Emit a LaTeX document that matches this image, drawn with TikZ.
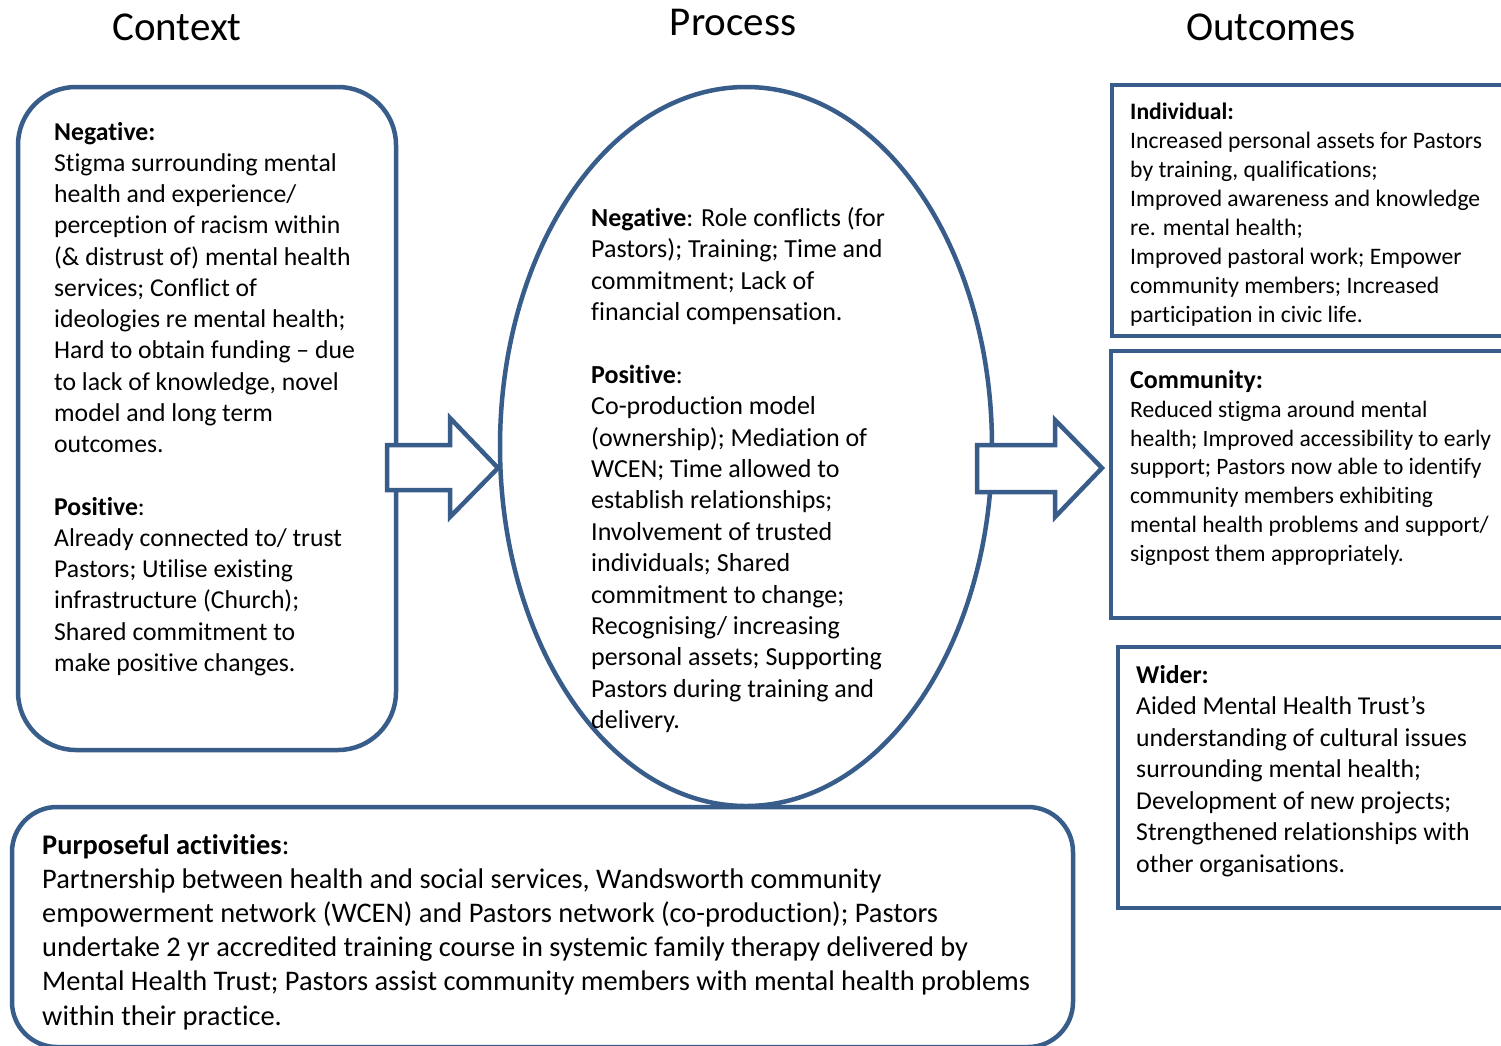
\documentclass[tikz,border=0pt]{standalone}
\usepackage{fontspec}
\setmainfont[Ligatures={TeX,NoCommon}]{Carlito}
\usetikzlibrary{shapes.geometric}
\definecolor{frame}{HTML}{385D8A}
\begin{document}
\begin{tikzpicture}[x=1pt,y=-1pt,
  outline/.style={draw=frame,line width=4.5pt},
  rbox/.style={outline,rectangle,rounded corners=#1,inner sep=0pt},
  sbox/.style={outline,rectangle,inner sep=0pt},
  blockarrow/.style={outline,fill=white,line join=miter},
  body/.style={anchor=north west,inner sep=0pt,align=left,text=black},
  title/.style={anchor=center,inner sep=0pt,font=\fontsize{41}{49}\selectfont}]
\clip (0,0) rectangle (1501,1045);
\fill[white] (0,0) rectangle (1501,1045);
% titles
\node[title] (tctx) at (177,27) {Context};
\node[title] (tproc) at (733,22) {Process};
\node[title] (tout) at (1271,27) {Outcomes};
% boxes
\node[rbox=58pt,minimum width=378pt,minimum height=663pt] (ctx) at (207,418.5) {};
\node[outline,ellipse,inner sep=0pt,minimum width=492pt,minimum height=719pt] (proc) at (746,446.5) {};
\node[rbox=45pt,minimum width=1061pt,minimum height=240pt] (purp) at (542.5,927) {};
\node[sbox,minimum width=410pt,minimum height=251pt] (indiv) at (1317,210.5) {};
\node[sbox,minimum width=411pt,minimum height=267pt] (comm) at (1316.5,484.5) {};
\node[sbox,minimum width=404pt,minimum height=261pt] (wider) at (1320,777.5) {};
% block arrows
\draw[blockarrow] (387,445) -- (450,445) -- (450,418) -- (498,468) -- (450,517) -- (450,490) -- (387,490) -- cycle;
\draw[blockarrow] (977,445) -- (1055,445) -- (1055,420) -- (1102,468) -- (1055,517) -- (1055,492) -- (977,492) -- cycle;
% texts
\node[body,font=\fontsize{25.7}{31.25}\selectfont] (ctxtext) at (54,122) {\textbf{Negative:}\\
Stigma surrounding mental\\
health and experience/\\
perception of racism within\\
(\& distrust of) mental health\\
services; Conflict of\\
ideologies re mental health;\\
Hard to obtain funding – due\\
to lack of knowledge, novel\\
model and long term\\
outcomes.\\
~\\
\textbf{Positive}:\\
Already connected to/ trust\\
Pastors; Utilise existing\\
infrastructure (Church);\\
Shared commitment to\\
make positive changes.};
\node[body,font=\fontsize{26}{31.4}\selectfont] (proctext) at (591,207) {\textbf{Negative}: Role conflicts (for\\
Pastors); Training; Time and\\
commitment; Lack of\\
financial compensation.\\
~\\
\textbf{Positive}:\\
Co-production model\\
(ownership); Mediation of\\
WCEN; Time allowed to\\
establish relationships;\\
Involvement of trusted\\
individuals; Shared\\
commitment to change;\\
Recognising/ increasing\\
personal assets; Supporting\\
Pastors during training and\\
delivery.};
\node[body,font=\fontsize{23.6}{29}\selectfont] (inditext) at (1130,102.5) {\textbf{Individual:}\\
Increased personal assets for Pastors\\
by training, qualifications;\\
Improved awareness and knowledge\\
re. mental health;\\
Improved pastoral work; Empower\\
community members; Increased\\
participation in civic life.};
\node[body,font=\fontsize{23.5}{28.8}\selectfont] (commtext) at (1130,370) {{\fontsize{26}{28.8}\selectfont\textbf{Community:}}\\
Reduced stigma around mental\\
health; Improved accessibility to early\\
support; Pastors now able to identify\\
community members exhibiting\\
mental health problems and support/\\
signpost them appropriately.};
\node[body,font=\fontsize{25.7}{31.5}\selectfont] (widtext) at (1136,665) {\textbf{Wider:}\\
Aided Mental Health Trust’s\\
understanding of cultural issues\\
surrounding mental health;\\
Development of new projects;\\
Strengthened relationships with\\
other organisations.};
\node[body,font=\fontsize{28.4}{34.2}\selectfont] (purptext) at (42,834) {\textbf{Purposeful activities}:\\
Partnership between health and social services, Wandsworth community\\
empowerment network (WCEN) and Pastors network (co-production); Pastors\\
undertake 2 yr accredited training course in systemic family therapy delivered by\\
Mental Health Trust; Pastors assist community members with mental health problems\\
within their practice.};
\end{tikzpicture}
\end{document}
